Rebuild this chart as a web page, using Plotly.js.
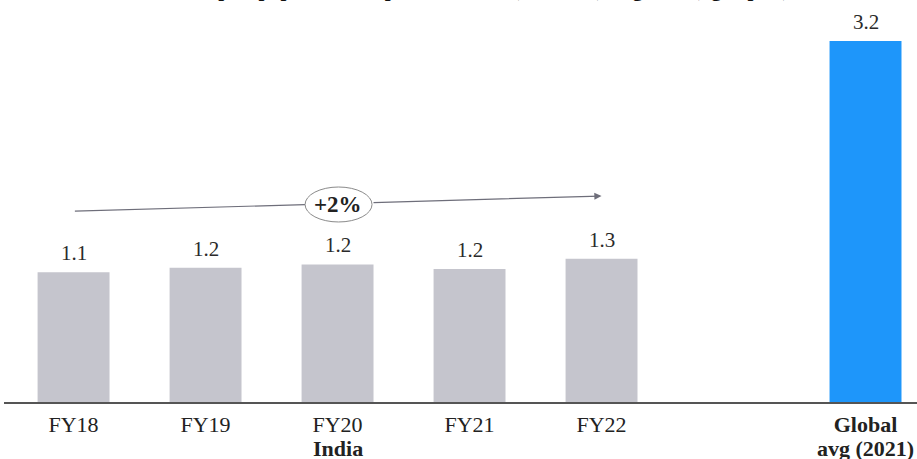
<!DOCTYPE html>
<html>
<head>
<meta charset="utf-8">
<script src="https://cdn.plot.ly/plotly-3.0.1.min.js"></script>
<style>html,body{margin:0;padding:0;background:#fff;}#chart{width:917px;height:459px;}</style>
</head>
<body>
<div id="chart"></div>
<script>
// ---- data ----
const categories = ["FY18", "FY19", "FY20", "FY21", "FY22", "Global avg (2021)"];
const values = [1.15, 1.19, 1.22, 1.18, 1.27, 3.2];
const valueLabels = ["1.1", "1.2", "1.2", "1.2", "1.3", "3.2"];
const tickLabels = ["FY18", "FY19", "FY20", "FY21", "FY22", "<b>Global</b>"];
const groupLabels = ["", "", "India", "", "", "avg (2021)"];
const growthLabel = "+2%";
const titleText = "Per capita paper consumption in India (FY18-22) vs global (kg/capita)";

// ---- styling ----
const GRAY = "#c5c5cd";
const BLUE = "#1e96fa";
const FONT = "Liberation Serif, Times New Roman, serif";
const spacer = " ";
const categoryOrder = categories.slice(0, 5).concat([spacer], categories.slice(5));
const barColors = categories.map(c => c.startsWith("Global") ? BLUE : GRAY);

const trace = {
  type: "bar",
  x: categories,
  y: values,
  marker: {color: barColors, line: {width: 0}},
  hoverinfo: "skip",
  showlegend: false
};

const labelAnnotations = categories.map((c, i) => ({
  x: c, y: values[i], xref: "x", yref: "y",
  text: valueLabels[i], showarrow: false,
  yanchor: "bottom", yshift: 5,
  font: {family: FONT, size: 21, color: "#2a2a2a"}
}));

const groupAnnotations = categories.map((c, i) => ({
  x: c, y: 0, xref: "x", yref: "paper",
  text: groupLabels[i] ? "<b>" + groupLabels[i] + "</b>" : "", showarrow: false,
  yanchor: "top", yshift: -32,
  font: {family: FONT, size: 22, color: "#222"}
})).filter(a => a.text);

const layout = {
  width: 917, height: 459,
  margin: {l: 4, r: 0, t: 0, b: 57},
  paper_bgcolor: "#fff", plot_bgcolor: "#fff",
  bargap: 0.455,
  xaxis: {
    type: "category",
    categoryorder: "array",
    categoryarray: categoryOrder,
    range: [-0.527, 6.39],
    tickvals: categories,
    ticktext: tickLabels,
    showline: true, linecolor: "#555", linewidth: 1.5,
    ticks: "", showgrid: false, zeroline: false,
    ticklabelstandoff: 2,
    tickfont: {family: FONT, size: 22, color: "#222"},
    fixedrange: true
  },
  yaxis: {
    range: [0, 3.564],
    visible: false, showgrid: false, zeroline: false,
    fixedrange: true
  },
  shapes: [
    {type: "line", xref: "x", yref: "y", x0: 0.01, y0: 1.693, x1: 1.754, y1: 1.750,
     line: {color: "#6e6e7a", width: 1.2}},
    {type: "circle", xref: "x", yref: "y", x0: 1.754, x1: 2.261, y0: 1.596, y1: 1.906,
     fillcolor: "#fff", line: {color: "#8a8a8a", width: 1}}
  ],
  annotations: labelAnnotations.concat(groupAnnotations, [
    {x: 4.0, y: 1.826, ax: 2.261, ay: 1.768, xref: "x", yref: "y", axref: "x", ayref: "y",
     showarrow: true, arrowhead: 2, arrowsize: 1.2, arrowwidth: 1.2, arrowcolor: "#6e6e7a",
     text: "", standoff: 0},
    {x: 2.0, y: 1.755, xref: "x", yref: "y", text: "<b>" + growthLabel + "</b>", showarrow: false,
     font: {family: FONT, size: 23, color: "#222"}},
    {x: 0.517, y: 0.9925, xref: "paper", yref: "paper", xanchor: "center", yanchor: "bottom",
     text: "<b>" + titleText + "</b>", showarrow: false,
     font: {family: FONT, size: 21, color: "#111"}}
  ])
};

Plotly.newPlot("chart", [trace], layout, {displayModeBar: false, staticPlot: true});
</script>
</body>
</html>
